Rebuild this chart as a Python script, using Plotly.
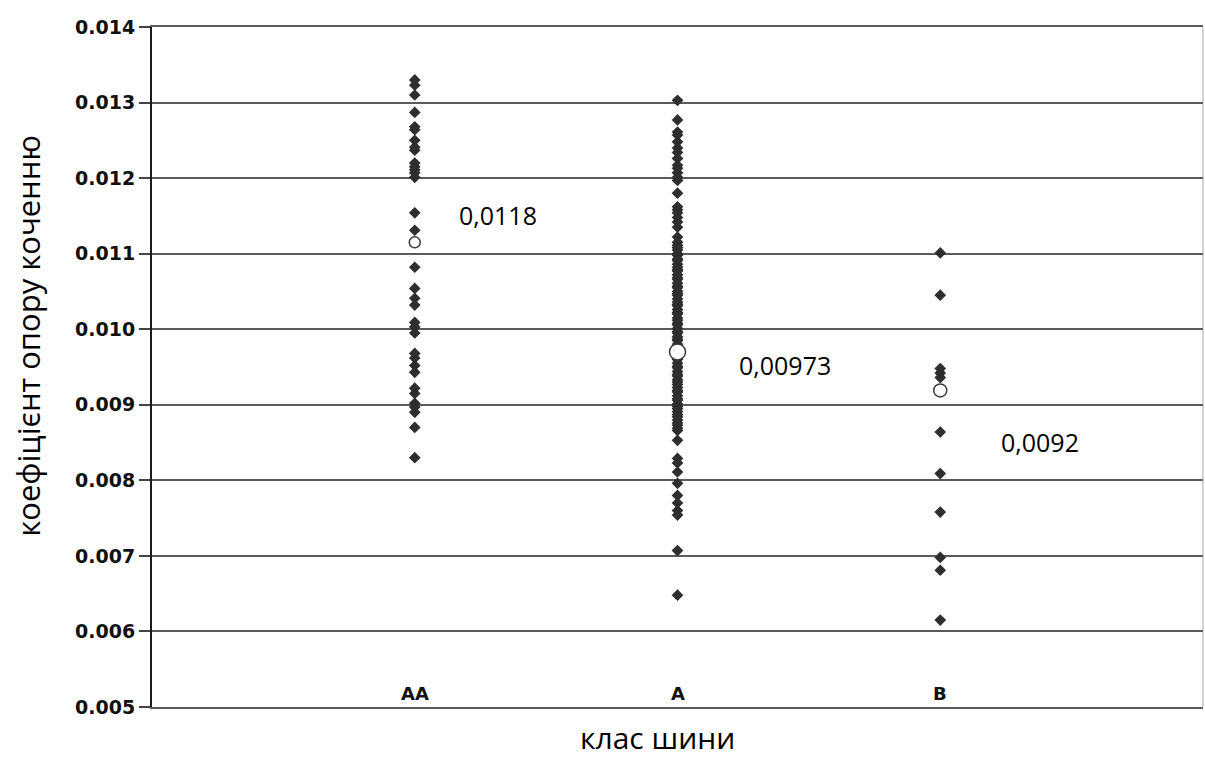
import plotly.graph_objects as go

categories = ["AA", "A", "B"]
cat_pos = [0, 1, 2]

aa_values = [0.01330, 0.01323, 0.01310, 0.01287, 0.01268, 0.01264, 0.01250, 0.01241,
             0.01237, 0.01220, 0.01215, 0.01211, 0.01207, 0.01201, 0.01154, 0.01131,
             0.01082, 0.01054, 0.01041, 0.01032, 0.01009, 0.01003, 0.00995, 0.00968,
             0.00962, 0.00952, 0.00943, 0.00922, 0.00915, 0.00902, 0.00897, 0.00890,
             0.00870, 0.00830]

a_values = [0.01303, 0.01277, 0.01261, 0.01257, 0.01248, 0.01240, 0.01234, 0.01226,
            0.01217, 0.01213, 0.01207, 0.01201, 0.01197, 0.01180, 0.01162, 0.01158,
            0.01154, 0.01148, 0.01142, 0.01135, 0.01122, 0.01115, 0.01111,
            0.01108, 0.01105, 0.01100, 0.01098, 0.01093, 0.01091, 0.01086, 0.01082,
            0.01079, 0.01077, 0.01072, 0.01068, 0.01066, 0.01061, 0.01057, 0.01055,
            0.01050, 0.01047, 0.01045, 0.01040, 0.01036, 0.01033, 0.01031, 0.01026,
            0.01022, 0.01020, 0.01015, 0.01012, 0.01008, 0.01006, 0.01001, 0.00997,
            0.00995, 0.00990, 0.00987, 0.00985, 0.00980, 0.00976, 0.00974, 0.00969,
            0.00966, 0.00962, 0.00960, 0.00955, 0.00951, 0.00949, 0.00944, 0.00940,
            0.00938, 0.00933, 0.00930, 0.00927, 0.00923, 0.00919, 0.00917, 0.00912,
            0.00908, 0.00906, 0.00901, 0.00898, 0.00895, 0.00891, 0.00887, 0.00884,
            0.00880, 0.00876, 0.00873, 0.00869, 0.00866,
            0.00853, 0.00829, 0.00823, 0.00811, 0.00796, 0.00780, 0.00770, 0.00760,
            0.00754, 0.00707, 0.00648]

b_values = [0.01101, 0.01045, 0.00948, 0.00942, 0.00936, 0.00864, 0.00809, 0.00758,
            0.00698, 0.00681, 0.00615]

mean_positions = [0.01115, 0.00970, 0.00919]
mean_labels = ["0,0118", "0,00973", "0,0092"]
mean_sizes = [11, 16, 13]

y_ticks = [0.005, 0.006, 0.007, 0.008, 0.009, 0.010, 0.011, 0.012, 0.013, 0.014]
y_tick_labels = ["0.005", "0.006", "0.007", "0.008", "0.009", "0.010", "0.011", "0.012", "0.013", "0.014"]

label_x = [0.315, 1.408, 2.38]
label_y = [0.01151, 0.00952, 0.00851]

x_title = "клас шини"
y_title = "коефіцієнт опору коченню"

fig = go.Figure()

for pos, vals in zip(cat_pos, [aa_values, a_values, b_values]):
    fig.add_trace(go.Scatter(
        x=[pos] * len(vals), y=vals, mode="markers",
        marker=dict(symbol="diamond", size=9, color="#2e2e2e", opacity=1,
                    line=dict(width=0)),
        showlegend=False, hoverinfo="y"))

fig.add_trace(go.Scatter(
    x=cat_pos, y=mean_positions, mode="markers",
    marker=dict(symbol="circle", size=mean_sizes, color="white", opacity=1,
                line=dict(color="#3a3a3a", width=1.5)),
    showlegend=False, hoverinfo="y"))

for lx, ly, txt in zip(label_x, label_y, mean_labels):
    fig.add_annotation(x=lx, y=ly, text=txt, showarrow=False,
                       font=dict(family="Open Sans", size=25, color="black"),
                       bgcolor="white")

for pos, cat in zip(cat_pos, categories):
    fig.add_annotation(x=pos, y=0.00518, text=cat, showarrow=False,
                       font=dict(family="DejaVu Sans", size=18, color="#111", weight="bold"))

# axis titles
fig.add_annotation(xref="paper", yref="paper", x=0.4805, y=-53 / 680, text=x_title,
                   showarrow=False, xanchor="center", yanchor="bottom",
                   font=dict(family="Open Sans", size=30, color="black"))
fig.add_annotation(xref="paper", yref="paper", x=-0.118, y=0.546, text=y_title,
                   showarrow=False, xanchor="center", yanchor="middle", textangle=-90,
                   font=dict(family="Open Sans", size=31, color="black"))

# right border (light) and top/bottom lines (dark)
fig.add_shape(type="line", xref="paper", yref="paper", x0=1, x1=1, y0=0, y1=1,
              line=dict(color="#c8c8c8", width=1.5), layer="below")

fig.update_layout(
    width=1205, height=760,
    margin=dict(l=152, r=2, t=27, b=53, autoexpand=False),
    paper_bgcolor="white", plot_bgcolor="white",
    font=dict(family="DejaVu Sans"),
)

fig.update_xaxes(
    range=[-1, 3], showticklabels=False, showgrid=False, zeroline=False,
    showline=True, linecolor="#5a5a5a", linewidth=2, mirror=True, ticks="",
)

fig.update_yaxes(
    range=[0.005, 0.014], tickvals=y_ticks, ticktext=y_tick_labels,
    tickfont=dict(family="DejaVu Sans", size=19, color="#111", weight="bold"),
    showgrid=True, gridcolor="#5a5a5a", gridwidth=2, zeroline=False,
    showline=True, linecolor="#1a1a1a", linewidth=2,
    ticks="outside", ticklen=11, tickcolor="#444", tickwidth=2,
)

fig.write_html("out.html", config={"displayModeBar": False},
               post_script="document.body.style.margin='0px';")
